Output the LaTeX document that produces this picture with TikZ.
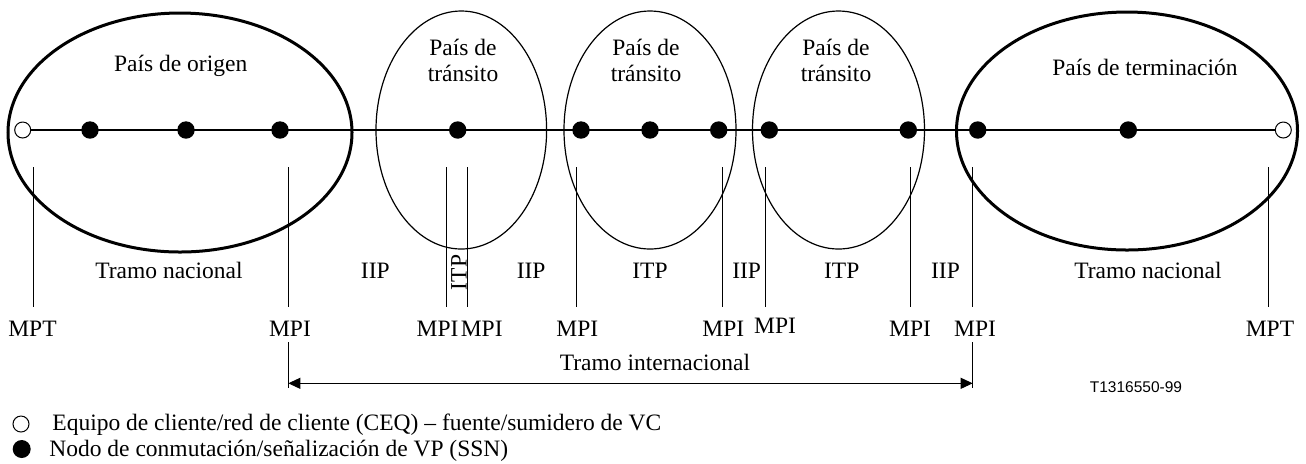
\documentclass[tikz,border=0pt]{standalone}
\usepackage{fontspec}
\setmainfont{Liberation Serif}
\setsansfont{Liberation Sans}
\usetikzlibrary{arrows.meta}

\tikzset{
  ssn/.style={circle,fill=black,inner sep=0pt,minimum size=8.7pt},
  ceq/.style={circle,draw=black,fill=white,line width=0.5pt,inner sep=0pt,minimum size=8pt},
  txt/.style={font=\fontsize{11.75}{13.35}\selectfont,inner sep=0pt,anchor=base},
  pais/.style={line width=0.6pt},
  paisext/.style={line width=1.5pt},
  tick/.style={line width=0.5pt}
}

\begin{document}
\begin{tikzpicture}[x=0.5pt,y=-0.5pt]
		\useasboundingbox (0,0) rectangle (1306,463);
		% paises
		\draw[paisext] (180,132.5) ellipse [x radius=172,y radius=119.5];
		\draw[pais] (461.3,130) ellipse [x radius=85.3,y radius=119];
		\draw[pais] (650,130) ellipse [x radius=86,y radius=119];
		\draw[pais] (838.5,130) ellipse [x radius=86,y radius=119];
		\draw[paisext] (1127,131) ellipse [x radius=170.5,y radius=119];
		\node[txt] (origen) at (180.7,71.7) {País de origen};
		\node[txt] (tr1a) at (463,55) {País de};
		\node[txt] (tr1b) at (463,81.7) {tránsito};
		\node[txt] (tr2a) at (646,55) {País de};
		\node[txt] (tr2b) at (646,81.7) {tránsito};
		\node[txt] (tr3a) at (836,55) {País de};
		\node[txt] (tr3b) at (836,81.7) {tránsito};
		\node[txt] (termin) at (1145,75) {País de terminación};
		
		% conexion
		\node[ceq] (ceqL) at (22.7,130) {};
		\node[ceq] (ceqR) at (1283.3,130) {};
		\draw[line width=0.7pt] (ceqL) -- (ceqR);
		\node[ssn] (n1) at (90,130) {};
		\node[ssn] (n2) at (186,130) {};
		\node[ssn] (n3) at (280,130) {};
		\node[ssn] (n4) at (457.7,130) {};
		\node[ssn] (n5) at (581,130) {};
		\node[ssn] (n6) at (650,130) {};
		\node[ssn] (n7) at (718.7,130) {};
		\node[ssn] (n8) at (769.3,130) {};
		\node[ssn] (n9) at (908.3,130) {};
		\node[ssn] (n10) at (977.7,130) {};
		\node[ssn] (n11) at (1128.3,130) {};
		
		% puntos de medicion
		\draw[tick] (33,167) -- (33,307);
		\draw[tick] (288.3,167) -- (288.3,307);
		\draw[tick] (446.7,167) -- (446.7,307);
		\draw[tick] (467.3,167) -- (467.3,307);
		\draw[tick] (576,167) -- (576,307);
		\draw[tick] (722.7,167) -- (722.7,307);
		\draw[tick] (765.7,167) -- (765.7,307);
		\draw[tick] (910.7,167) -- (910.7,307);
		\draw[tick] (972.7,167) -- (972.7,307);
		\draw[tick] (1268.3,167) -- (1268.3,307);
		\node[txt] (mpt1) at (32.5,336.5) {MPT};
		\node[txt] (mpi1) at (290,336.5) {MPI};
		\node[txt] (mpi2) at (437.5,336.5) {MPI};
		\node[txt] (mpi3) at (481.7,336.5) {MPI};
		\node[txt] (mpi4) at (577.3,336.5) {MPI};
		\node[txt] (mpi5) at (723.3,336.5) {MPI};
		\node[txt] (mpi6) at (775,333.5) {MPI};
		\node[txt] (mpi7) at (910,336.5) {MPI};
		\node[txt] (mpi8) at (975,336.5) {MPI};
		\node[txt] (mpt2) at (1270,336.5) {MPT};
		
		% tramos
		\node[txt] (nac1) at (169,278.3) {Tramo nacional};
		\node[txt] (iip1) at (375.3,278.3) {IIP};
		\node[txt,rotate=90,anchor=center] (itp1) at (459,272.5) {ITP};
		\node[txt] (iip2) at (531.2,278.3) {IIP};
		\node[txt] (itp2) at (650,278.3) {ITP};
		\node[txt] (iip3) at (746.7,278.3) {IIP};
		\node[txt] (itp3) at (841.7,278.3) {ITP};
		\node[txt] (iip4) at (945.5,278.3) {IIP};
		\node[txt] (nac2) at (1148,278.3) {Tramo nacional};
		
		\coordinate (intL) at (288.3,383.3);
		\coordinate (intR) at (972.7,383.3);
		\draw[tick] (288.3,342) -- (288.3,388.3);
		\draw[tick] (972.7,342) -- (972.7,388.3);
		\draw[tick,{Triangle[length=6pt,width=5.5pt]}-{Triangle[length=6pt,width=5.5pt]}] (intL) -- (intR);
		\node[txt] (inter) at (655,370) {Tramo internacional};
		\node[font=\sffamily\fontsize{7.75}{9}\selectfont,inner sep=0pt,anchor=base] (fig) at (1136,392.7) {T1316550-99};
		
		% leyenda
		\node[ceq,minimum size=8pt] (legceq) at (21,424) {};
		\node[ssn,minimum size=9pt] (legssn) at (21.7,449) {};
		\node[txt,anchor=base west] (txtceq) at (52,430.5) {Equipo de cliente/red de cliente (CEQ) – fuente/sumidero de VC};
		\node[txt,anchor=base west] (txtssn) at (49,456.5) {Nodo de conmutación/señalización de VP (SSN)};
	\end{tikzpicture}
\end{document}
